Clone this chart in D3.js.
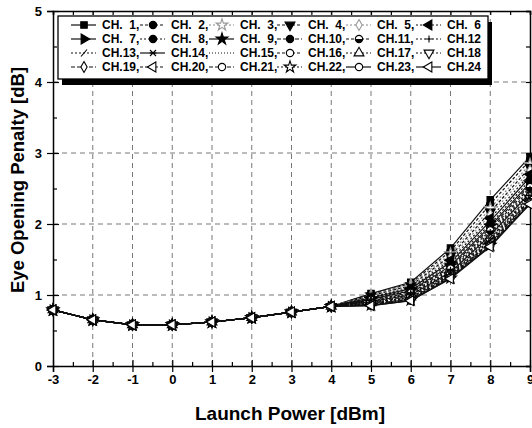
<!DOCTYPE html>
<html><head><meta charset="utf-8">
<script src="https://cdn.jsdelivr.net/npm/d3@7"></script>
<style>body{margin:0;background:#fff}svg{display:block}text{font-family:"Liberation Sans",Arial,sans-serif;font-weight:bold}</style>
</head><body><svg id="c" width="532" height="428"></svg>
<script>
const powers = [-3,-2,-1,0,1,2,3,4,5,6,7,8,9];
const xTicks = [-3,-2,-1,0,1,2,3,4,5,6,7,8,9];
const yTicks = [0,1,2,3,4,5];
const channels = ["CH.  1,","CH.  2,","CH.  3,","CH.  4,","CH.  5,","CH.  6","CH.  7,","CH.  8,","CH.  9,","CH.10,","CH.11,","CH.12","CH.13,","CH.14,","CH.15,","CH.16,","CH.17,","CH.18","CH.19,","CH.20,","CH.21,","CH.22,","CH.23,","CH.24"];
const ch01 = [0.79,0.65,0.58,0.58,0.62,0.68,0.76,0.84,1.02,1.18,1.66,2.34,2.95];
const ch02 = [0.79,0.65,0.58,0.58,0.62,0.68,0.76,0.84,1.01,1.16,1.62,2.28,2.90];
const ch03 = [0.79,0.65,0.58,0.58,0.62,0.68,0.76,0.84,1.00,1.15,1.58,2.22,2.84];
const ch04 = [0.79,0.65,0.58,0.58,0.62,0.68,0.76,0.84,0.99,1.13,1.55,2.17,2.80];
const ch05 = [0.79,0.65,0.58,0.58,0.62,0.68,0.76,0.84,0.98,1.12,1.52,2.13,2.75];
const ch06 = [0.79,0.65,0.58,0.58,0.62,0.68,0.76,0.84,0.97,1.10,1.49,2.08,2.70];
const ch07 = [0.79,0.65,0.58,0.58,0.62,0.68,0.76,0.84,0.96,1.09,1.46,2.04,2.66];
const ch08 = [0.79,0.65,0.58,0.58,0.62,0.68,0.76,0.84,0.95,1.07,1.44,2.00,2.62];
const ch09 = [0.79,0.65,0.58,0.58,0.62,0.68,0.76,0.84,0.94,1.06,1.41,1.97,2.58];
const ch10 = [0.79,0.65,0.58,0.58,0.62,0.68,0.76,0.84,0.94,1.05,1.39,1.94,2.55];
const ch11 = [0.79,0.65,0.58,0.58,0.62,0.68,0.76,0.84,0.93,1.03,1.37,1.91,2.52];
const ch12 = [0.79,0.65,0.58,0.58,0.62,0.68,0.76,0.84,0.92,1.02,1.35,1.88,2.49];
const ch13 = [0.79,0.65,0.58,0.58,0.62,0.68,0.76,0.84,0.91,1.01,1.33,1.86,2.46];
const ch14 = [0.79,0.65,0.58,0.58,0.62,0.68,0.76,0.84,0.91,1.00,1.32,1.84,2.44];
const ch15 = [0.79,0.65,0.58,0.58,0.62,0.68,0.76,0.84,0.90,0.99,1.31,1.82,2.42];
const ch16 = [0.79,0.65,0.58,0.58,0.62,0.68,0.76,0.84,0.89,0.98,1.30,1.80,2.40];
const ch17 = [0.79,0.65,0.58,0.58,0.62,0.68,0.76,0.84,0.89,0.97,1.29,1.78,2.38];
const ch18 = [0.79,0.65,0.58,0.58,0.62,0.68,0.76,0.84,0.88,0.96,1.28,1.76,2.36];
const ch19 = [0.79,0.65,0.58,0.58,0.62,0.68,0.76,0.84,0.87,0.95,1.27,1.74,2.34];
const ch20 = [0.79,0.65,0.58,0.58,0.62,0.68,0.76,0.84,0.87,0.94,1.26,1.73,2.33];
const ch21 = [0.79,0.65,0.58,0.58,0.62,0.68,0.76,0.84,0.86,0.93,1.25,1.71,2.31];
const ch22 = [0.79,0.65,0.58,0.58,0.62,0.68,0.76,0.84,0.86,0.93,1.24,1.70,2.30];
const ch23 = [0.79,0.65,0.58,0.58,0.62,0.68,0.76,0.84,0.85,0.92,1.24,1.69,2.29];
const ch24 = [0.79,0.65,0.58,0.58,0.62,0.68,0.76,0.84,0.85,0.92,1.23,1.68,2.28];
const penalty = [ch01,ch02,ch03,ch04,ch05,ch06,ch07,ch08,ch09,ch10,ch11,ch12,ch13,ch14,ch15,ch16,ch17,ch18,ch19,ch20,ch21,ch22,ch23,ch24];

// marker styles: [shape, rotation, filled, dash, gray]
const styles = [
 ["square",0,true,null,"#000"],["circle",0,true,"3,2","#000"],["star",0,false,"2,2","#aaa"],["triangle",180,true,"3,2","#000"],
 ["diamond",0,false,"2,2","#aaa"],["triangle",-90,true,"2,2","#555"],["triangle",90,true,null,"#000"],["circle",0,true,"2,2","#333"],
 ["star",0,true,null,"#000"],["circle",0,true,"4,2","#000"],["circle",0,"half","3,2","#222"],["plus",0,false,"2,2","#444"],
 ["slash",0,false,"2,2","#555"],["times",0,false,null,"#222"],["none",0,false,"1,2","#bbb"],["circle",0,false,"3,2","#444"],
 ["triangle",0,false,"2,2","#777"],["triangle",180,false,"2,2","#555"],["diamond",0,false,"4,2","#000"],["triangle",-90,false,"3,2","#333"],
 ["circle",0,false,"4,2","#000"],["star",0,false,"2,2","#888"],["circle",0,false,null,"#000"],["triangle",-90,false,null,"#000"]
];

const svg = d3.select("#c");
const x = d3.scaleLinear().domain([-3,9]).range([53,530]);
const y = d3.scaleLinear().domain([0,5]).range([366,11]);

// grid
const grid = svg.append("g").attr("stroke","#555").attr("stroke-width",0.8).attr("stroke-dasharray","5,4");
grid.selectAll("line.v").data(xTicks.slice(1,-1)).join("line").attr("x1",d=>x(d)).attr("x2",d=>x(d)).attr("y1",y(0)).attr("y2",y(5));
grid.selectAll("line.h").data(yTicks.slice(1,-1)).join("line").attr("x1",x(-3)).attr("x2",532).attr("y1",d=>y(d)).attr("y2",d=>y(d));

// axes
const fmt = d => String(d);
const halfX = d3.range(-3,9.01,0.5), halfY = d3.range(0,5.01,0.5);
const bottom = svg.append("g").attr("transform",`translate(0,${y(0)})`)
  .call(d3.axisBottom(x).tickValues(xTicks).tickSize(6).tickPadding(3).tickFormat(fmt));
bottom.selectAll(".tick line").attr("y1",-6).attr("y2",6);
svg.append("g").attr("transform",`translate(0,${y(0)})`).call(d3.axisBottom(x).tickValues(halfX.filter(v=>v%1!==0)).tickSize(-4).tickFormat("")).select(".domain").remove();
const left = svg.append("g").attr("transform",`translate(${x(-3)},0)`)
  .call(d3.axisLeft(y).tickValues(yTicks).tickSize(6).tickPadding(5).tickFormat(fmt));
left.selectAll(".tick line").attr("x1",-6).attr("x2",6);
svg.append("g").attr("transform",`translate(${x(-3)},0)`).call(d3.axisLeft(y).tickValues(halfY.filter(v=>v%1!==0)).tickSize(-4).tickFormat("")).select(".domain").remove();
svg.append("g").attr("transform",`translate(0,${y(5)})`).call(d3.axisTop(x).tickValues(halfX).tickSize(-4).tickFormat(""));
svg.append("g").attr("transform",`translate(${x(9)},0)`).call(d3.axisRight(y).tickValues(halfY).tickSize(-4).tickFormat(""));
svg.selectAll(".domain").attr("stroke","#000").attr("stroke-width",1.5);
svg.selectAll(".tick line").attr("stroke","#000").attr("stroke-width",1.2);
svg.selectAll(".tick text").attr("font-size",13).attr("font-weight","bold").attr("fill","#000").attr("font-family","Liberation Sans, Arial, sans-serif");

// axis titles
svg.append("text").attr("x",290).attr("y",420).attr("text-anchor","middle").attr("font-size",19).text("Launch Power [dBm]");
svg.append("text").attr("transform","translate(24,180) rotate(-90)").attr("text-anchor","middle").attr("font-size",18.5).text("Eye Opening Penalty [dB]");

// markers
function drawMarker(g, st, s){
  const [shape,rot,filled,dash,col] = st;
  const fill = filled===true ? "#000" : "#fff";
  const sw = 1.1;
  let sym=null, size=s*s;
  if(shape==="square") sym=d3.symbolSquare;
  else if(shape==="circle") sym=d3.symbolCircle;
  else if(shape==="star") sym=d3.symbolStar;
  else if(shape==="triangle") sym=d3.symbolTriangle;
  else if(shape==="diamond") {sym=d3.symbolDiamond; size*=0.8;}
  if(sym){
    g.append("path").attr("d",d3.symbol().type(sym).size(size)()).attr("transform",`rotate(${rot})`)
     .attr("fill",fill).attr("stroke",col==="#aaa"?"#999":"#000").attr("stroke-width",sw);
    if(filled==="half") g.append("path").attr("d",d3.arc()({innerRadius:0,outerRadius:Math.sqrt(size/Math.PI),startAngle:Math.PI/2,endAngle:Math.PI*1.5})).attr("fill","#000");
  } else if(shape==="plus"){
    g.append("path").attr("d","M-3.5,0H3.5M0,-3.5V3.5").attr("stroke","#000").attr("stroke-width",sw);
  } else if(shape==="times"){
    g.append("path").attr("d","M-3,-3L3,3M-3,3L3,-3M-3.5,0H3.5").attr("stroke","#000").attr("stroke-width",sw);
  } else if(shape==="slash"){
    g.append("path").attr("d","M-3,3.5L3,-3.5").attr("stroke","#000").attr("stroke-width",sw);
  }
}

const line = d3.line().x((d,i)=>x(powers[i])).y(d=>y(d));
const series = svg.append("g");
penalty.forEach((vals,k)=>{
  const st = styles[k];
  series.append("path").attr("d",line(vals)).attr("fill","none").attr("stroke",st[4]==="#aaa"?"#888":"#111")
    .attr("stroke-width",1.2).attr("stroke-dasharray",st[3]);
});
penalty.forEach((vals,k)=>{
  vals.forEach((v,i)=>{
    const g = series.append("g").attr("transform",`translate(${x(powers[i])},${y(v)})`);
    drawMarker(g, styles[k], 6.5);
  });
});

// legend
const lg = svg.append("g");
const lx0=58, ly0=16, lw=430, lh=63;
lg.append("rect").attr("x",lx0+4).attr("y",ly0+6).attr("width",lw).attr("height",lh).attr("fill","#000");
lg.append("rect").attr("x",lx0).attr("y",ly0).attr("width",lw).attr("height",lh).attr("fill","#fff").attr("stroke","#000").attr("stroke-width",1.3);
const colX=[102,171,240,308,377,447], rowY=[25,39,53,67];
channels.forEach((name,k)=>{
  const cx=colX[k%6], cy=rowY[Math.floor(k/6)], st=styles[k];
  lg.append("line").attr("x1",cx-31).attr("x2",cx-6).attr("y1",cy).attr("y2",cy)
    .attr("stroke",st[4]==="#aaa"?"#888":"#111").attr("stroke-width",1.2).attr("stroke-dasharray",st[3]);
  drawMarker(lg.append("g").attr("transform",`translate(${cx-18},${cy})`), st, 6.5);
  lg.append("text").attr("x",cx).attr("y",cy+4.3).attr("font-size",12).attr("xml:space","preserve").style("white-space","pre").text(name);
});
</script></body></html>
